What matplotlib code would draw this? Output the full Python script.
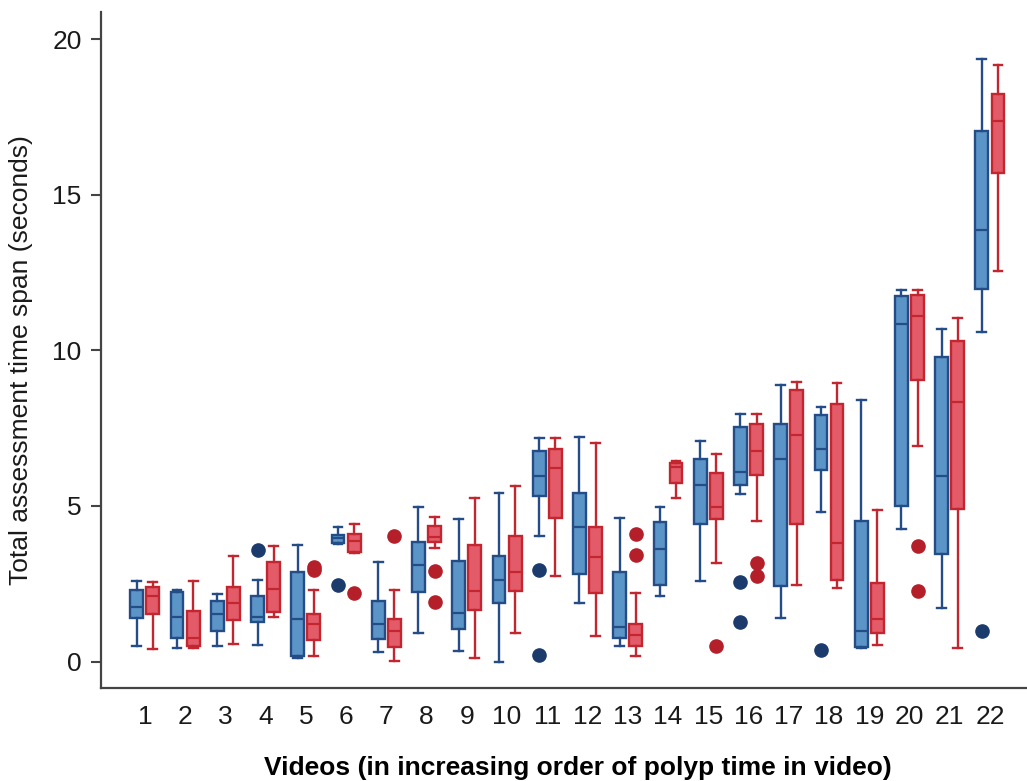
import matplotlib
matplotlib.use("Agg")
import matplotlib.pyplot as plt

plt.rcParams["font.family"] = ["Liberation Sans", "DejaVu Sans"]

videos = list(range(1, 23))

# blue group: box-plot summary
blue_whislo = [0.50, 0.43, 0.50, 0.53, 0.11, 3.78, 0.30, 0.91, 0.35, 0.00, 4.04,
               1.87, 0.51, 2.09, 2.60, 5.38, 1.41, 4.79, 0.44, 4.25, 1.73, 10.59]
blue_q1 = [1.39, 0.76, 0.98, 1.27, 0.19, 3.80, 0.71, 2.22, 1.05, 1.87, 5.33,
           2.82, 0.77, 2.47, 4.42, 5.67, 2.42, 6.14, 0.46, 4.99, 3.44, 11.96]
blue_med = [1.74, 1.43, 1.54, 1.43, 1.38, 3.96, 1.20, 3.10, 1.55, 2.63, 5.95,
            4.31, 1.10, 3.62, 5.66, 6.09, 6.52, 6.84, 0.98, 10.84, 5.95, 13.88]
blue_q3 = [2.30, 2.22, 1.96, 2.10, 2.87, 4.08, 1.93, 3.85, 3.24, 3.39, 6.75,
           5.40, 2.89, 4.48, 6.51, 7.55, 7.62, 7.92, 4.53, 11.73, 9.80, 17.05]
blue_whishi = [2.59, 2.30, 2.18, 2.63, 3.76, 4.32, 3.19, 4.95, 4.58, 5.40, 7.17,
               7.22, 4.60, 4.95, 7.08, 7.94, 8.90, 8.18, 8.40, 11.93, 10.67, 19.35]
blue_fliers = [[], [], [], [3.57], [], [2.46], [], [], [], [], [2.95, 0.20],
               [], [], [], [], [2.55, 1.26], [], [0.37], [], [], [], [0.99]]

# red group
red_whislo = [0.41, 0.43, 0.56, 1.42, 0.18, 3.50, 0.03, 3.64, 0.11, 0.92, 2.76,
              0.83, 0.19, 5.26, 3.17, 4.52, 2.45, 2.35, 0.54, 6.91, 0.45, 12.54]
red_q1 = [1.54, 0.51, 1.34, 1.59, 0.70, 3.53, 0.46, 3.83, 1.67, 2.26, 4.60,
          2.19, 0.49, 5.74, 4.57, 6.00, 4.43, 2.63, 0.91, 9.05, 4.90, 15.69]
red_med = [2.10, 0.75, 1.87, 2.32, 1.20, 3.88, 0.97, 3.99, 2.26, 2.89, 6.22,
           3.35, 0.86, 6.26, 4.98, 6.76, 7.29, 3.80, 1.36, 11.11, 8.35, 17.37]
red_q3 = [2.38, 1.61, 2.40, 3.19, 1.54, 4.09, 1.36, 4.34, 3.76, 4.04, 6.82,
          4.31, 1.19, 6.38, 6.06, 7.62, 8.74, 8.28, 2.51, 11.79, 10.30, 18.24]
red_whishi = [2.54, 2.60, 3.38, 3.71, 2.31, 4.41, 2.30, 4.63, 5.27, 5.65, 7.17,
              7.02, 2.20, 6.45, 6.67, 7.94, 8.99, 8.96, 4.88, 11.94, 11.03, 19.18]
red_fliers = [[], [], [], [], [2.93, 3.03], [2.19], [4.04], [2.90, 1.90], [], [], [],
              [], [4.09, 3.41], [], [0.51], [3.17, 2.76], [], [], [], [3.72, 2.26], [], []]


def make_stats(lo, q1, med, q3, hi, fl):
    return [dict(whislo=a, q1=b, med=c, q3=d, whishi=e, fliers=f)
            for a, b, c, d, e, f in zip(lo, q1, med, q3, hi, fl)]


fig = plt.figure(figsize=(10.27, 7.81), dpi=100)
ax = fig.add_axes([0.0983, 0.1191, 0.9017, 0.8655])

groups = [
    (make_stats(blue_whislo, blue_q1, blue_med, blue_q3, blue_whishi, blue_fliers),
     -0.2, "#5b94c7", "#244c86", "#1c3b6d"),
    (make_stats(red_whislo, red_q1, red_med, red_q3, red_whishi, red_fliers),
     0.2, "#e35b69", "#c4262f", "#b51f29"),
]

for stats, off, face, edge, dot in groups:
    ax.bxp(stats, positions=[v + off for v in videos], widths=0.32,
           capwidths=0.22, patch_artist=True, manage_ticks=False,
           boxprops=dict(facecolor=face, edgecolor=edge, linewidth=1.7),
           medianprops=dict(color=edge, linewidth=1.6),
           whiskerprops=dict(color=edge, linewidth=1.7),
           capprops=dict(color=edge, linewidth=1.7),
           flierprops=dict(marker="o", markerfacecolor=dot, markeredgecolor=dot,
                           markersize=9.5, linestyle="none"))

ax.set_xlim(-0.09, 22.92)
ax.set_ylim(-0.85, 20.87)
ax.set_xticks(videos)
ax.set_xticklabels([str(v) for v in videos])
ax.set_yticks([0, 5, 10, 15, 20])

for s in ["top", "right"]:
    ax.spines[s].set_visible(False)
for s in ["left", "bottom"]:
    ax.spines[s].set_linewidth(1.6)
    ax.spines[s].set_color("#444444")

ax.tick_params(axis="x", length=0, pad=12, labelsize=19, labelcolor="#1a1a1a")
ax.tick_params(axis="y", length=7, width=1.5, color="#444444", pad=7,
               labelsize=19, labelcolor="#1a1a1a")

ax.set_ylabel("Total assessment time span (seconds)", fontsize=19,
              color="#1a1a1a", labelpad=14)
ax.set_xlabel("Videos (in increasing order of polyp time in video)", fontsize=19,
              fontweight="bold", color="black", labelpad=20)
# labels sit a little off-centre in the original
ax.xaxis.label.set_x(0.515)
ax.yaxis.label.set_y(0.485)

fig.savefig("out.png", dpi=100)
